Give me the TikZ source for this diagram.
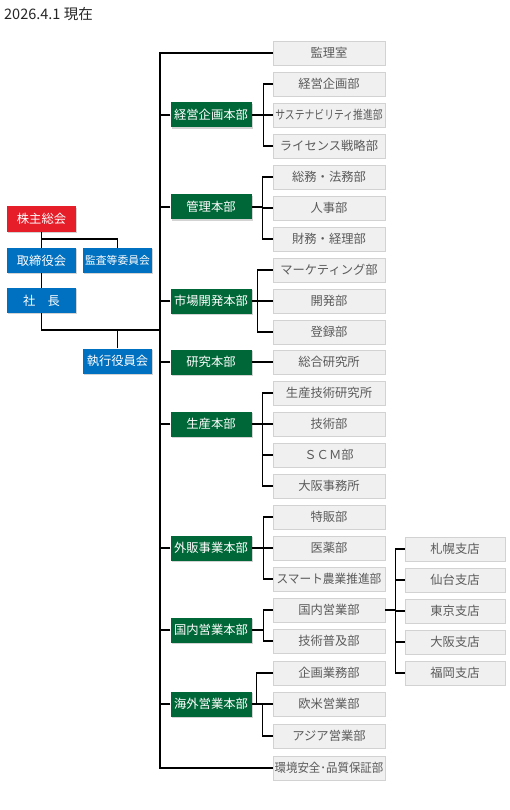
\documentclass[tikz,border=0pt]{standalone}
\usepackage{fontspec}
\setmainfont{Noto Sans CJK JP}
\usetikzlibrary{shadows,calc}
\definecolor{gfill}{HTML}{F0F0F0}
\definecolor{gdraw}{HTML}{D2D2D2}
\definecolor{gtext}{HTML}{5A5A5A}
\definecolor{hqgreen}{HTML}{006838}
\definecolor{topred}{HTML}{E61E2A}
\definecolor{topblue}{HTML}{0070C0}
\begin{document}
\begin{tikzpicture}[x=1pt,y=-1pt,
  every node/.style={font=\fontsize{12.3}{14}\selectfont, inner sep=0pt},
  shd/.style={drop shadow={opacity=0.35, shadow xshift=1.2pt, shadow yshift=-1.2pt}},
  dept/.style={shd, fill=gfill, draw=gdraw, line width=0.5pt, text=gtext, minimum width=112pt, minimum height=24pt},
  branch/.style={dept, minimum width=100pt},
  hq/.style={shd, fill=hqgreen, text=white, minimum width=81pt, minimum height=25pt},
  top/.style={shd, text=white, minimum width=69pt, minimum height=25pt},
  ln/.style={line width=1.2pt, black}
]
\useasboundingbox (0,0) rectangle (510,810);
\node[anchor=west, font=\fontsize{14.5}{16}\selectfont, text=black!85] (date) at (4,14) {2026.4.1 現在};

% left top boxes
\node[top, fill=topred] (kabu) at (41.5,219) {株主総会};
\node[top, fill=topblue] (tori) at (41.5,260.5) {取締役会};
\node[top, fill=topblue, font=\fontsize{10.8}{12}\selectfont] (kansatou) at (117.5,260.5) {監査等委員会};
\node[top, fill=topblue] (shacho) at (41.5,300.5) {社　長};
\node[top, fill=topblue] (shikko) at (117.5,361) {執行役員会};

% department boxes
\def\dx{329}
\node[dept] (d0) at (\dx,53) {監理室};
\node[dept] (d1) at (\dx,84) {経営企画部};
\node[dept] (d2) at (\dx,115) {\scalebox{0.8}[1]{サステナビリティ推進部}};
\node[dept] (d3) at (\dx,146) {ライセンス戦略部};
\node[dept] (d4) at (\dx,177) {総務・法務部};
\node[dept] (d5) at (\dx,208) {人事部};
\node[dept] (d6) at (\dx,239) {財務・経理部};
\node[dept] (d7) at (\dx,270) {マーケティング部};
\node[dept] (d8) at (\dx,301) {開発部};
\node[dept] (d9) at (\dx,332) {登録部};
\node[dept] (d10) at (\dx,362) {総合研究所};
\node[dept] (d11) at (\dx,393) {生産技術研究所};
\node[dept] (d12) at (\dx,424) {技術部};
\node[dept] (d13) at (\dx,455) {ＳＣＭ部};
\node[dept] (d14) at (\dx,486) {大阪事務所};
\node[dept] (d15) at (\dx,517) {特販部};
\node[dept] (d16) at (\dx,548) {医薬部};
\node[dept] (d17) at (\dx,579) {\scalebox{0.95}[1]{スマート農業推進部}};
\node[dept] (d18) at (\dx,610) {国内営業部};
\node[dept] (d19) at (\dx,641) {技術普及部};
\node[dept] (d20) at (\dx,673) {企画業務部};
\node[dept] (d21) at (\dx,704) {欧米営業部};
\node[dept] (d22) at (\dx,736) {アジア営業部};
\node[dept] (d23) at (\dx,768) {\scalebox{0.93}[1]{環境安全･品質保証部}};

% branches
\node[branch] (b1) at (455,549) {札幌支店};
\node[branch] (b2) at (455,580) {仙台支店};
\node[branch] (b3) at (455,611) {東京支店};
\node[branch] (b4) at (455,642) {大阪支店};
\node[branch] (b5) at (455,673) {福岡支店};

% HQ boxes
\def\gx{211}
\node[hq] (g1) at (\gx,115) {経営企画本部};
\node[hq] (g2) at (\gx,207) {管理本部};
\node[hq] (g3) at (\gx,301) {市場開発本部};
\node[hq] (g4) at (\gx,362) {研究本部};
\node[hq] (g5) at (\gx,424) {生産本部};
\node[hq] (g6) at (\gx,548) {外販事業本部};
\node[hq] (g7) at (\gx,630) {国内営業本部};
\node[hq] (g8) at (\gx,704) {海外営業本部};

% trunk
\coordinate (Tt) at (160,53);
\coordinate (Tb) at (160,768);
\coordinate (J) at (160,330);
\coordinate (K) at (41.5,239);
\draw[ln] (d0.west) -- (Tt) -- (Tb) -- (d23.west);
\foreach \g in {g1,g2,g3,g4,g5,g6,g7,g8}{
  \draw[ln] (\g.west) -- (\g.west -| Tt);
}
% left
\draw[ln] (kabu.south) -- (tori.north);
\draw[ln] (K) -| (kansatou.north);
\draw[ln] (tori.south) -- (shacho.north);
\draw[ln] (shacho.south) |- (J);
\draw[ln] (shikko.north) -- (shikko.north |- J);

% brackets
\draw[ln] (g1.east) -- (g1.east -| d2.west);
\draw[ln] (d1.west) -- ++(-9,0) |- (d3.west);

\draw[ln] (g2.east) -- ++(11,0) coordinate (c2);
\draw[ln] (d4.west) -- ++(-10,0) |- (d6.west);
\draw[ln] (d5.west) -- (d5.west -| c2);

\draw[ln] (g3.east) -- (g3.east -| d8.west);
\draw[ln] (d7.west) -- ++(-15,0) |- (d9.west);

\draw[ln] (g4.east) -- (g4.east -| d10.west);

\draw[ln] (g5.east) -- ++(11,0) coordinate (c5);
\draw[ln] (d11.west) -- ++(-10,0) |- (d14.west);
\draw[ln] (d12.west) -- (d12.west -| c5);
\draw[ln] (d13.west) -- (d13.west -| c5);

\draw[ln] (g6.east) -- (g6.east -| d16.west);
\draw[ln] (d15.west) -- ++(-9,0) |- (d17.west);

\draw[ln] (g7.east) -- ++(12,0);
\draw[ln] (d18.west) -- ++(-9,0) |- (d19.west);

\draw[ln] (g8.east) -- (g8.east -| d21.west);
\draw[ln] (d20.west) -- ++(-16,0) |- (g8.east);
\draw[ln] ($(d21.west)+(-10,0)$) |- (d22.west);

% branch connectors
\draw[ln] (d18.east) -- ++(11,0) coordinate (cb);
\draw[ln] (b1.west) -- ++(-9,0) |- (b5.west);
\draw[ln] (b2.west) -- (b2.west -| cb);
\draw[ln] (b3.west) -- (b3.west -| cb);
\draw[ln] (b4.west) -- (b4.west -| cb);
\end{tikzpicture}
\end{document}
